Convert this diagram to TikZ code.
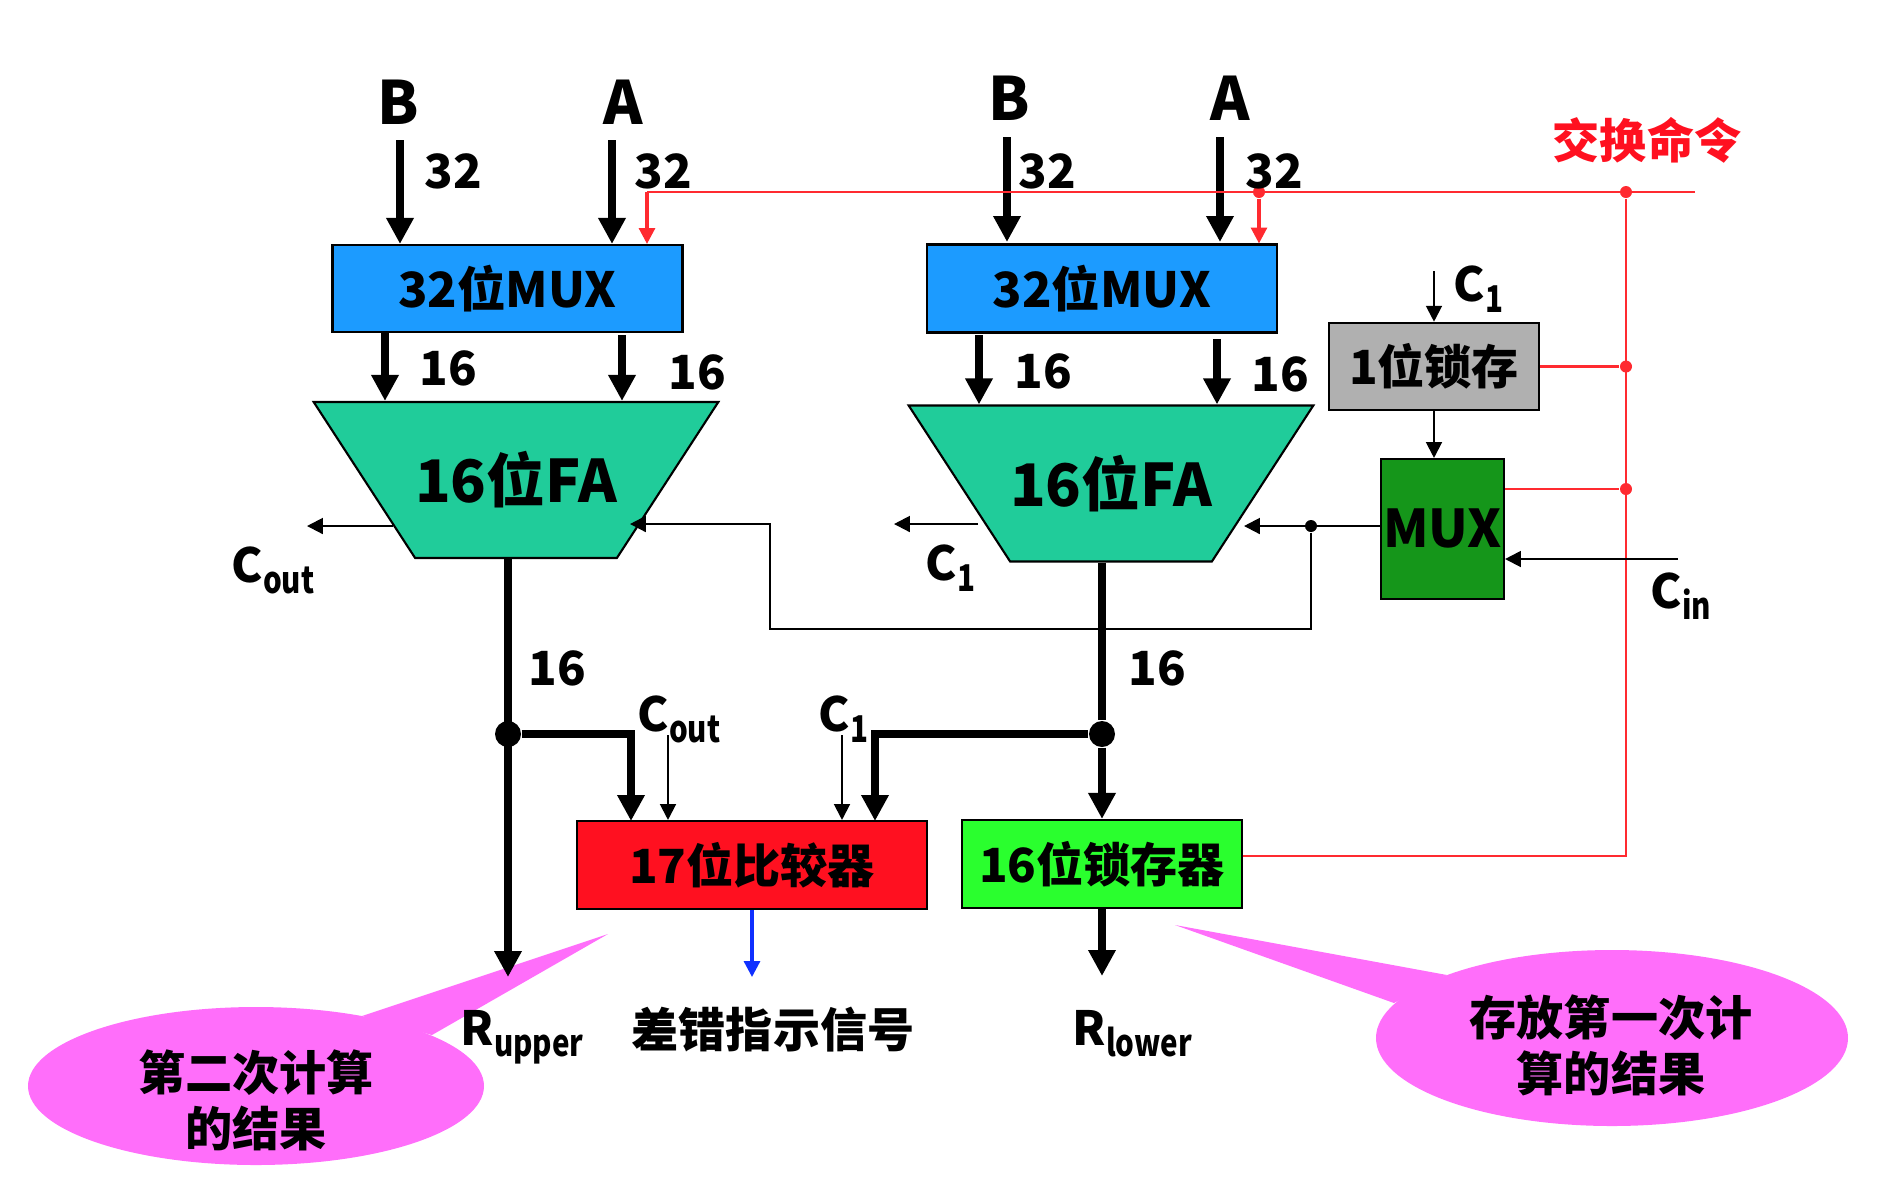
\documentclass[tikz,border=0pt]{standalone}
\usepackage{fontspec}
\setmainfont{Noto Sans CJK SC}
\usetikzlibrary{arrows.meta}
\usetikzlibrary{shapes.geometric}

\definecolor{muxblue}{HTML}{1C9BFF}
\definecolor{adderteal}{HTML}{20CC9A}
\definecolor{latchgray}{HTML}{B0B0B0}
\definecolor{muxgreen}{HTML}{15961A}
\definecolor{cmpred}{HTML}{FF1020}
\definecolor{latchgreen}{HTML}{2AFF2E}
\definecolor{bubblepink}{HTML}{FF6EFA}
\definecolor{sigred}{HTML}{FF2A30}
\definecolor{errblue}{HTML}{1030FF}

\newcommand{\sublab}[2]{#1\raisebox{-0.24em}{\scalebox{0.8}[1]{\fontsize{10.5}{10.5}\selectfont #2}}}

\begin{document}
\begin{tikzpicture}[
    x=1cm, y=-1cm,
    txt/.style={inner sep=0, font=\fontsize{13.4}{16}\selectfont\bfseries, align=center},
    big/.style={inner sep=0, font=\fontsize{17}{20}\selectfont\bfseries},
    lab/.style={inner sep=0, anchor=base west, font=\fontsize{13.4}{16}\selectfont\bfseries},
    box/.style={txt, draw=black, line width=0.6pt, rectangle},
    adder/.style={big, draw=black, line width=0.6pt, fill=adderteal, trapezium,
      shape border rotate=180, trapezium angle=29.25, trapezium stretches body=true,
      minimum width=3.98cm, minimum height=1.56cm, font=\fontsize{16.7}{20}\selectfont\bfseries},
    bus/.style={line width=2.5pt, -{Triangle[length=7.4pt,width=7.4pt]}},
    busline/.style={line width=2.5pt},
    wire/.style={line width=0.6pt, black},
    wirearrow/.style={wire, -{Triangle[length=4.5pt,width=4.5pt]}},
    sig/.style={line width=0.6pt, sigred},
    sigarrow/.style={line width=0.9pt, sigred, -{Triangle[length=4.5pt,width=4.5pt]}},
    bigdot/.style={circle, fill=black, inner sep=0, minimum size=0.26cm},
    reddot/.style={circle, fill=sigred, inner sep=0, minimum size=0.12cm},
    blackdot/.style={circle, fill=black, inner sep=0, minimum size=0.12cm},
    bubble/.style={ellipse, fill=bubblepink, inner sep=0}
  ]
  \useasboundingbox (0,0) rectangle (18.78,11.82);

  % callouts go under everything
  \node[bubble, minimum width=4.56cm, minimum height=1.58cm] (bubblea) at (2.56,10.86) {};
  \coordinate (tipa) at (6.08,9.34);
  \fill[bubblepink] (tipa) -- (3.62,10.16) -- (4.32,10.35) -- cycle;
  \node[bubble, minimum width=4.72cm, minimum height=1.76cm] (bubbleb) at (16.12,10.38) {};
  \coordinate (tipb) at (11.75,9.25);
  \fill[bubblepink] (tipb) -- (14.47,9.75) -- (13.94,10.03) -- cycle;
  \node[txt] (bubbletexta) at (2.56,11.00) {第二次计算\\的结果};
  \node[txt] (bubbletextb) at (16.11,10.45) {存放第一次计\\算的结果};

  % boxes
  \node[box, fill=muxblue, font=\fontsize{13.8}{16}\selectfont\bfseries, minimum width=3.50cm, minimum height=0.87cm] (muxa) at (5.075,2.885) {\raisebox{0.5pt}{32位MUX}};
  \node[box, fill=muxblue, font=\fontsize{13.8}{16}\selectfont\bfseries, minimum width=3.50cm, minimum height=0.88cm] (muxb) at (11.02,2.885) {\raisebox{0.5pt}{32位MUX}};
  \node[adder] (faa) at (5.16,4.80) {\raisebox{1.3pt}{16位FA}};
  \node[adder] (fab) at (11.11,4.835) {\raisebox{1.3pt}{16位FA}};
  \node[box, fill=latchgray, minimum width=2.10cm, minimum height=0.875cm] (latcha) at (14.34,3.665) {1位锁存};
  \node[box, fill=muxgreen, font=\fontsize{14.8}{16}\selectfont\bfseries, minimum width=1.23cm, minimum height=1.40cm] (muxc) at (14.425,5.29) {\raisebox{0.6pt}{MUX}};
  \node[box, fill=cmpred, minimum width=3.50cm, minimum height=0.88cm] (cmp) at (7.52,8.65) {\raisebox{0.8pt}{17位比较器}};
  \node[box, fill=latchgreen, minimum width=2.80cm, minimum height=0.88cm] (latchb) at (11.02,8.64) {\raisebox{0.8pt}{16位锁存器}};

  % inputs of the first stage
  \coordinate (ba) at (4.00,1.40);
  \coordinate (aa) at (6.12,1.40);
  \draw[bus] (ba) -- (ba |- muxa.north);
  \draw[bus] (aa) -- (aa |- muxa.north);
  \coordinate (bb) at (10.07,1.37);
  \coordinate (ab) at (12.20,1.37);
  \coordinate (bbtip) at (10.07,2.42);
  \coordinate (abtip) at (12.20,2.42);
  \draw[bus] (bb) -- (bbtip);
  \draw[bus] (ab) -- (abtip);

  % mux to adder
  \coordinate (qa) at (3.85,3.32);
  \coordinate (qb) at (6.22,3.35);
  \coordinate (qc) at (9.79,3.35);
  \coordinate (qd) at (12.17,3.39);
  \draw[bus] (qa) -- (qa |- faa.north);
  \draw[bus] (qb) -- (qb |- faa.north);
  \draw[bus] (qc) -- (qc |- fab.north);
  \draw[bus] (qd) -- (qd |- fab.north);

  % red swap command
  \coordinate (redend) at (16.95,1.92);
  \coordinate (redtop) at (6.47,1.92);
  \coordinate (redlow) at (16.26,8.56);
  \node[reddot] (reda) at (16.26,1.92) {};
  \node[reddot] (redb) at (12.59,1.92) {};
  \node[reddot] (redc) at (16.26,3.665) {};
  \node[reddot] (redd) at (16.26,4.89) {};
  \draw[sig] (redend) -- (redtop);
  \draw[sigarrow] (redtop) -- (redtop |- muxa.north);
  \draw[sigarrow] (redb) -- (redb |- muxb.north);
  \draw[sig] (reda) -- (redlow) -- (redlow -| latchb.east);
  \draw[sig] (latcha.east) -- (redc);
  \draw[sig] (redd -| muxc.east) -- (redd);

  % carries
  \coordinate (coutend) at (3.07,5.26);
  \coordinate (coutstart) at (3.93,5.26);
  \draw[wirearrow] (coutstart) -- (coutend);
  \coordinate (conestart) at (9.78,5.24);
  \coordinate (coneend) at (8.94,5.24);
  \draw[wirearrow] (conestart) -- (coneend);
  \node[blackdot] (carry) at (13.11,5.26) {};
  \coordinate (carrytip) at (12.44,5.26);
  \coordinate (loop) at (7.70,6.29);
  \coordinate (loopin) at (6.30,5.24);
  \draw[wirearrow] (carry -| muxc.west) -- (carrytip);
  \draw[wirearrow] (carry) |- (loop) |- (loopin);
  \coordinate (cin) at (16.78,5.59);
  \draw[wirearrow] (cin) -- (cin -| muxc.east);
  \coordinate (cone) at (14.34,2.71);
  \draw[wirearrow] (cone) -- (latcha.north);
  \draw[wirearrow] (latcha.south) -- (latcha.south |- muxc.north);

  % result buses
  \node[bigdot] (joina) at (5.08,7.34) {};
  \node[bigdot] (joinb) at (11.02,7.34) {};
  \coordinate (rupper) at (5.08,9.77);
  \coordinate (rlower) at (11.02,9.76);
  \coordinate (cmpa) at (6.31,8.21);
  \coordinate (cmpb) at (8.75,8.21);
  \draw[bus] (rupper |- faa.south) -- (rupper);
  \draw[busline] (joinb |- fab.south) -- (joinb);
  \draw[bus] (joinb) -- (latchb.north);
  \draw[bus] (latchb.south) -- (rlower);
  \draw[bus] (joina) -| (cmpa);
  \draw[bus] (joinb) -| (cmpb);
  \coordinate (cmpc) at (6.68,7.35);
  \coordinate (cmpd) at (8.42,7.35);
  \draw[wirearrow] (cmpc) -- (cmpc |- cmp.north);
  \draw[wirearrow] (cmpd) -- (cmpd |- cmp.north);
  \coordinate (errtip) at (7.52,9.77);
  \draw[line width=0.9pt, errblue, -{Triangle[length=4.5pt,width=4.5pt]}] (cmp.south) -- (errtip);

  % labels
  \node[big] (labba) at (3.98,1.02) {B};
  \node[big] (labaa) at (6.23,1.02) {A};
  \node[big] (labbb) at (10.09,0.98) {B};
  \node[big] (labab) at (12.30,0.98) {A};
  \node[txt] (wa) at (4.53,1.71) {32};
  \node[txt] (wb) at (6.63,1.71) {32};
  \node[txt] (wc) at (10.47,1.71) {32};
  \node[txt] (wd) at (12.74,1.71) {32};
  \node[txt] (we) at (4.48,3.68) {16};
  \node[txt] (wf) at (6.97,3.72) {16};
  \node[txt] (wg) at (10.43,3.71) {16};
  \node[txt] (wh) at (12.80,3.74) {16};
  \node[txt] (wi) at (5.57,6.68) {16};
  \node[txt] (wj) at (11.57,6.68) {16};
  \node[lab] (lcouta) at (2.31,5.82) {\sublab{C}{out}};
  \node[lab] (lconea) at (9.25,5.80) {\sublab{C}{1}};
  \node[lab] (lconeb) at (14.53,3.01) {\sublab{C}{1}};
  \node[lab] (lcin) at (16.50,6.08) {\sublab{C}{in}};
  \node[lab] (lcoutb) at (6.37,7.31) {\sublab{C}{out}};
  \node[lab] (lconec) at (8.18,7.31) {\sublab{C}{1}};
  \node[lab] (lrup) at (4.60,10.45) {\sublab{R}{upper}};
  \node[lab] (lrlo) at (10.72,10.45) {\sublab{R}{lower}};
  \node[txt] (lerr) at (7.73,10.30) {差错指示信号};
  \node[txt, text=cmpred] (lswap) at (16.47,1.40) {交换命令};
\end{tikzpicture}
\end{document}
